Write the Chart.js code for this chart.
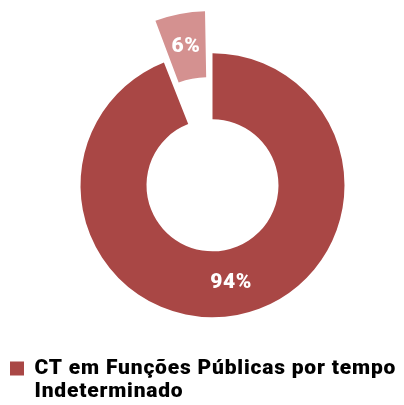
<!DOCTYPE html>
<html>
<head>
<meta charset="utf-8">
<script src="https://cdn.jsdelivr.net/npm/chart.js@4.4.1/dist/chart.umd.min.js"></script>
<style>
  html, body { margin: 0; padding: 0; background: #fff; overflow: hidden; }
  #wrap { width: 404px; height: 405px; position: relative; overflow: hidden; }
  canvas { display: block; }
</style>
</head>
<body>
<div id="wrap"><canvas id="c" width="417" height="412"></canvas></div>
<script>
const categories = ['CT em Funções Públicas por tempo Indeterminado', 'Outros'];
const legendLines = ['CT em Funções Públicas por tempo', 'Indeterminado'];
const values = [94, 6];
const colors = ['#A94745', '#D49190'];
const offsets = [0, 104];

const spacingPlugin = {
  id: 'letterSpacing',
  beforeLayout(chart) { chart.ctx.letterSpacing = '0.8px'; },
  beforeDraw(chart) { chart.ctx.letterSpacing = '0.8px'; }
};

const labelPlugin = {
  id: 'sliceLabels',
  afterDatasetsDraw(chart) {
    const ctx = chart.ctx;
    const meta = chart.getDatasetMeta(0);
    ctx.save();
    ctx.letterSpacing = '0.5px';
    ctx.fillStyle = '#ffffff';
    ctx.font = '900 21px Roboto';
    ctx.textAlign = 'center';
    ctx.textBaseline = 'middle';
    meta.data.forEach((arc, i) => {
      const p = arc.getProps(['x', 'y', 'startAngle', 'endAngle', 'innerRadius', 'outerRadius']);
      const a = (p.startAngle + p.endAngle) / 2;
      const circ = p.endAngle - p.startAngle;
      const o = (offsets[i] || 0) / 4;
      const fix = 1 - Math.sin(Math.min(Math.PI, circ));
      const r = (p.innerRadius + p.outerRadius) / 2 + o + o * fix;
      ctx.fillText(values[i] + '%', p.x + Math.cos(a) * r, p.y + Math.sin(a) * r);
    });
    ctx.restore();
  }
};

new Chart(document.getElementById('c'), {
  type: 'doughnut',
  data: {
    labels: categories,
    datasets: [{
      data: values,
      backgroundColor: colors,
      borderWidth: 0,
      offset: offsets
    }]
  },
  options: {
    responsive: false,
    animation: false,
    cutout: '50%',
    radius: 132,
    layout: { padding: { left: 8, right: 0, top: 14.6, bottom: 0 } },
    plugins: {
      tooltip: { enabled: false },
      legend: {
        position: 'bottom',
        align: 'start',
        labels: {
          boxWidth: 14,
          boxHeight: 14,
          padding: 2,
          color: '#151515',
          font: { family: 'Roboto', size: 21, weight: '900' },
          generateLabels(chart) {
            return legendLines.map((line, i) => ({
              text: line,
              fillStyle: i === 0 ? colors[0] : 'rgba(0,0,0,0)',
              strokeStyle: 'rgba(0,0,0,0)',
              lineWidth: 0,
              hidden: false,
              index: 0
            }));
          }
        }
      }
    }
  },
  plugins: [spacingPlugin, labelPlugin]
});
</script>
</body>
</html>
